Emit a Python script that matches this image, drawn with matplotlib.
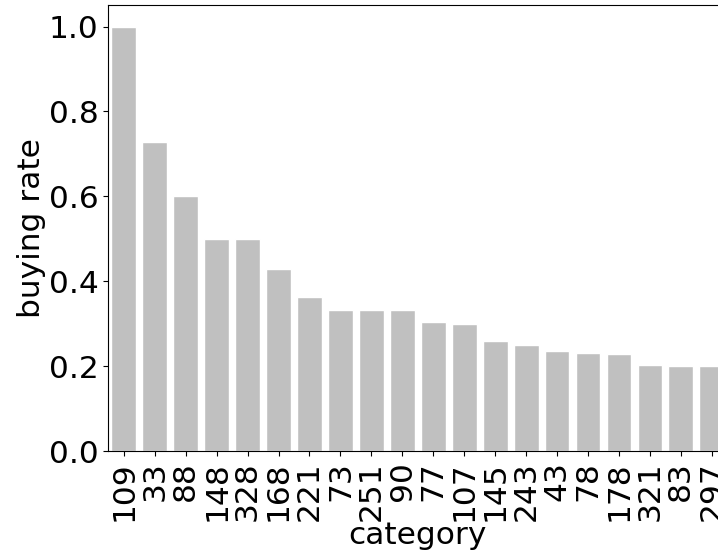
import matplotlib
matplotlib.use("Agg")
import matplotlib.pyplot as plt

categories = ["109", "33", "88", "148", "328", "168", "221", "73", "251", "90",
              "77", "107", "145", "243", "43", "78", "178", "321", "83", "297"]
buying_rate = [1.0, 0.727, 0.6, 0.5, 0.5, 0.4286, 0.364, 0.3333, 0.3333, 0.3333,
               0.304, 0.3, 0.259, 0.25, 0.235, 0.2326, 0.2286, 0.204, 0.2, 0.2]

fig = plt.figure(figsize=(7.18, 5.58), dpi=100)
# axes run past the right edge of the figure, so the last bar is clipped
ax = fig.add_axes([108.3 / 718, (558 - 451.3) / 558, 619 / 718, (451.3 - 5.3) / 558])

x = list(range(len(categories)))
ax.bar(x, buying_rate, width=0.8, color="silver", edgecolor="white", linewidth=1)
ax.set_xlim(-0.5, len(categories) - 0.5)
ax.set_ylim(0, 1.05)
ax.set_xticks(x)
ax.set_xticklabels(categories, rotation=90)
ax.set_yticks([0.0, 0.2, 0.4, 0.6, 0.8, 1.0])
ax.tick_params(labelsize=22.5)
ax.set_xlabel("category", fontsize=22.5, labelpad=0)
ax.set_ylabel("buying rate", fontsize=22.5, labelpad=2)

fig.savefig("out.png", dpi=100)
